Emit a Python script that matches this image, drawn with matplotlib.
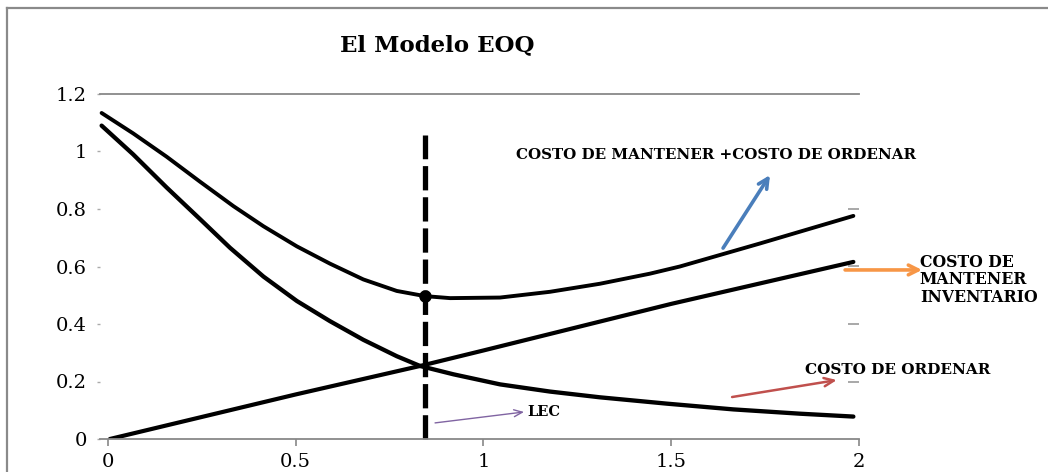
import matplotlib.pyplot as plt
from matplotlib.lines import Line2D

# costo de ordenar, de mantener y total frente a la cantidad Q
orden_x = [-0.017, 0.067, 0.156, 0.245, 0.325, 0.414, 0.503, 0.591, 0.680, 0.769, 0.831,
           0.92, 1.044, 1.177, 1.31, 1.488, 1.665, 1.843, 1.985]
orden_y = [1.09, 0.99, 0.875, 0.765, 0.665, 0.565, 0.48, 0.41, 0.345, 0.288, 0.254,
           0.225, 0.19, 0.165, 0.145, 0.123, 0.103, 0.088, 0.078]

mant_x = [0.005, 0.5, 0.831, 1.0, 1.5, 1.985]
mant_y = [0.0, 0.155, 0.254, 0.308, 0.47, 0.616]

total_x = [-0.017, 0.067, 0.156, 0.245, 0.334, 0.414, 0.503, 0.591, 0.680, 0.769, 0.844,
           0.911, 1.044, 1.177, 1.31, 1.443, 1.523, 1.736, 1.985]
total_y = [1.134, 1.063, 0.982, 0.895, 0.81, 0.74, 0.67, 0.61, 0.555, 0.515, 0.497,
           0.49, 0.492, 0.512, 0.54, 0.575, 0.60, 0.68, 0.776]

lec_x = 0.844
lec_y = 0.497
lec_top = 1.057

xticks = [0, 0.5, 1, 1.5, 2]
xticklabels = ['0', '0.5', '1', '1.5', '2']
yticks = [0, 0.2, 0.4, 0.6, 0.8, 1, 1.2]
yticklabels = ['0', '0.2', '0.4', '0.6', '0.8', '1', '1.2']

plt.rcParams['font.family'] = ['DejaVu Serif']

fig = plt.figure(figsize=(10.48, 4.72), dpi=100)
ax = fig.add_axes([100/1048, 33/472, 759/1048, 345/472])

ax.plot(orden_x, orden_y, color='black', lw=3.1, solid_capstyle='round', solid_joinstyle='round', clip_on=False)
ax.plot(mant_x, mant_y, color='black', lw=3, solid_capstyle='round')
ax.plot(total_x, total_y, color='black', lw=2.8, solid_capstyle='round', solid_joinstyle='round', clip_on=False)
ax.plot([lec_x, lec_x], [0, lec_top], color='black', lw=3.8, dashes=(4.6, 1.3), clip_on=False)
ax.plot([lec_x], [lec_y], 'o', color='black', ms=8)

ax.set_xlim(-0.0213, 2)
ax.set_ylim(0, 1.2)
ax.set_xticks(xticks)
ax.set_xticklabels(xticklabels, fontsize=14)
ax.set_yticks(yticks)
ax.set_yticklabels(yticklabels, fontsize=14)
ax.tick_params(axis='x', length=5, color='#888888', width=1.2, pad=5)
ax.tick_params(axis='y', length=2, color='#aaaaaa', width=1, pad=7.4)
for s in ['left', 'right']:
    ax.spines[s].set_visible(False)
for s in ['top', 'bottom']:
    ax.spines[s].set_color('#888888')
    ax.spines[s].set_linewidth(1.3)

# marcas internas del lado derecho
sec = ax.secondary_yaxis('right')
sec.set_yticks([0.2, 0.4, 0.6, 0.8])
sec.set_yticklabels([])
sec.tick_params(direction='in', length=8, color='#999999', width=1.2)
sec.spines['right'].set_visible(False)

fig.text(437/1048, 1 - 45/472, 'El Modelo EOQ', ha='center', va='center',
         fontsize=16.5, fontweight='bold')

lbl = dict(fontweight='bold', clip_on=False)
ax.text(1.087, 0.988, 'COSTO DE MANTENER +COSTO DE ORDENAR', ha='left', va='center', fontsize=10.9, **lbl)
ax.text(2.162, 0.645, 'COSTO DE\nMANTENER\nINVENTARIO', ha='left', va='top', linespacing=1.05,
        fontsize=11.3, **lbl)
ax.text(1.856, 0.24, 'COSTO DE ORDENAR', ha='left', va='center', fontsize=11, **lbl)
ax.text(1.118, 0.094, 'LEC', ha='left', va='center', fontsize=10.5, **lbl)

def flecha(x0, y0, x1, y1, color, lw, hl, hw):
    ax.annotate('', xy=(x1, y1), xytext=(x0, y0), annotation_clip=False,
                arrowprops=dict(arrowstyle='->,head_length=%s,head_width=%s' % (hl, hw),
                                color=color, lw=lw, shrinkA=0, shrinkB=0))

flecha(1.638, 0.664, 1.763, 0.918, '#4a7ebb', 2.6, 0.7, 0.35)
flecha(1.963, 0.588, 2.168, 0.588, '#f79646', 2.6, 0.7, 0.35)
flecha(1.662, 0.146, 1.941, 0.205, '#c0504d', 1.8, 0.7, 0.3)
flecha(0.871, 0.056, 1.108, 0.094, '#8064a2', 1.0, 0.6, 0.25)

# marco gris de la figura
fig.add_artist(Line2D([7/1048, 7/1048], [0, 1 - 8/472], color='#8a8a8a', lw=1.6))
fig.add_artist(Line2D([7/1048, 1], [1 - 8/472, 1 - 8/472], color='#8a8a8a', lw=1.6))

fig.savefig('out.png', dpi=100)
